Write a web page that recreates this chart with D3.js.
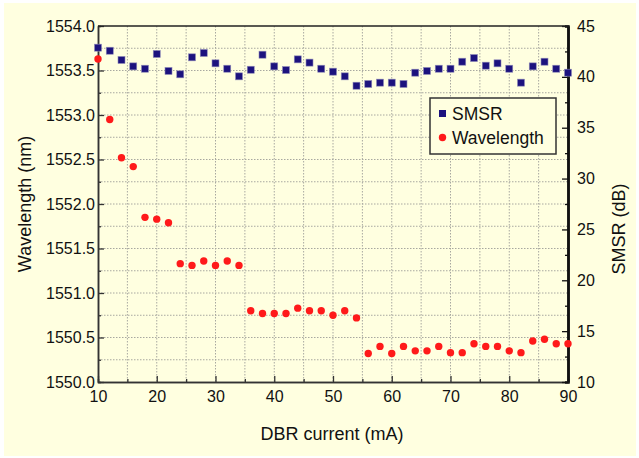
<!DOCTYPE html>
<html>
<head>
<meta charset="utf-8">
<script src="https://cdn.jsdelivr.net/npm/d3@7"></script>
<style>
  body { margin: 0; background: #ffffff; }
  text { font-family: "Liberation Sans", Arial, sans-serif; fill: #111; }
</style>
</head>
<body>
<div class="chart"></div>
<script>
// DBR current (mA)
var current = [10, 12, 14, 16, 18, 20, 22, 24, 26, 28, 30, 32, 34, 36, 38, 40, 42, 44, 46, 48,
  50, 52, 54, 56, 58, 60, 62, 64, 66, 68, 70, 72, 74, 76, 78, 80, 82, 84, 86, 88, 90];

// SMSR (dB), right axis
var smsr = [42.87, 42.57, 41.66, 41.03, 40.8, 42.25, 40.58, 40.25, 41.92, 42.35, 41.33, 40.8, 40.05, 40.7,
  42.18, 41.03, 40.67, 41.72, 41.4, 40.8, 40.51, 40.05, 39.13, 39.3, 39.43, 39.43, 39.3,
  40.41, 40.58, 40.8, 40.8, 41.49, 41.85, 41.1, 41.33, 40.8, 39.43, 41.03, 41.49, 40.8, 40.41];

// Wavelength (nm), left axis
var wavelength = [1553.63, 1552.95, 1552.52, 1552.42, 1551.85, 1551.83, 1551.79, 1551.33, 1551.31, 1551.36,
  1551.31, 1551.36, 1551.31, 1550.80, 1550.77, 1550.77, 1550.77, 1550.83, 1550.80, 1550.80, 1550.75,
  1550.80, 1550.72, 1550.32, 1550.40, 1550.32, 1550.40, 1550.35, 1550.35, 1550.40, 1550.33, 1550.33,
  1550.43, 1550.40, 1550.40, 1550.35, 1550.33, 1550.46, 1550.48, 1550.43, 1550.43];

var xTicks = [10, 20, 30, 40, 50, 60, 70, 80, 90];
var leftTicks = [1550.0, 1550.5, 1551.0, 1551.5, 1552.0, 1552.5, 1553.0, 1553.5, 1554.0];
var rightTicks = [10, 15, 20, 25, 30, 35, 40, 45];
var legendLabels = ["SMSR", "Wavelength"];

var svgWidth = 639;
var svgHeight = 458;

var margin = { top: 26, right: 71, bottom: 76, left: 98 };
var width = svgWidth - margin.left - margin.right;
var height = svgHeight - margin.top - margin.bottom;

var svg = d3.select(".chart")
  .append("svg")
  .attr("width", svgWidth)
  .attr("height", svgHeight);

// yellow panel
svg.append("rect")
  .attr("x", 4).attr("y", 3)
  .attr("width", 632).attr("height", 453)
  .attr("fill", "#ffffe0");

var chartGroup = svg.append("g")
  .attr("transform", `translate(${margin.left}, ${margin.top})`);

var xScale = d3.scaleLinear().domain([10, 90]).range([0, width]);
var yLeft = d3.scaleLinear().domain([1550, 1554]).range([height, 0]);
var yRight = d3.scaleLinear().domain([10, 45]).range([height, 0]);

// dotted grid
chartGroup.append("g")
  .selectAll("line")
  .data(d3.range(15, 90, 5))
  .enter()
  .append("line")
  .attr("x1", d => xScale(d)).attr("x2", d => xScale(d))
  .attr("y1", 0).attr("y2", height)
  .attr("stroke", "#a8a8a0")
  .attr("stroke-width", 1)
  .attr("stroke-dasharray", "1.5,1.5");

chartGroup.append("g")
  .selectAll("line")
  .data(d3.range(1550.25, 1554, 0.25))
  .enter()
  .append("line")
  .attr("x1", 0).attr("x2", width)
  .attr("y1", d => yLeft(d)).attr("y2", d => yLeft(d))
  .attr("stroke", "#a8a8a0")
  .attr("stroke-width", 1)
  .attr("stroke-dasharray", "1.5,1.5");

function styleAxis(g, color, w) {
  g.select(".domain").attr("stroke", color).attr("stroke-width", w);
  g.selectAll(".tick line").attr("stroke", color).attr("stroke-width", 1.3);
  g.selectAll(".tick text")
    .style("font-family", "'Liberation Sans', Arial, sans-serif")
    .style("font-size", "16px")
    .attr("fill", "#111");
}

// minor ticks
chartGroup.append("g")
  .attr("transform", `translate(0, ${height})`)
  .call(d3.axisBottom(xScale).tickValues(d3.range(15, 90, 10)).tickSize(-3).tickFormat(""))
  .call(g => styleAxis(g, "#333", 1.5));
chartGroup.append("g")
  .call(d3.axisLeft(yLeft).tickValues(d3.range(1550.25, 1554, 0.5)).tickSize(-3).tickFormat(""))
  .call(g => styleAxis(g, "#333", 1.5));
chartGroup.append("g")
  .attr("transform", `translate(${width}, 0)`)
  .call(d3.axisRight(yRight).tickValues(d3.range(12.5, 45, 5)).tickSize(-3).tickFormat(""))
  .call(g => styleAxis(g, "#111", 2.5));

// major axes
chartGroup.append("g")
  .attr("transform", `translate(0, ${height})`)
  .call(d3.axisBottom(xScale).tickValues(xTicks).tickSizeInner(-6).tickSizeOuter(0).tickPadding(9).tickFormat(d3.format("d")))
  .call(g => styleAxis(g, "#333", 1.5));

chartGroup.append("g")
  .call(d3.axisLeft(yLeft).tickValues(leftTicks).tickSizeInner(-6).tickSizeOuter(0).tickPadding(3).tickFormat(d3.format(".1f")))
  .call(g => styleAxis(g, "#333", 1.5));

chartGroup.append("g")
  .attr("transform", `translate(${width}, 0)`)
  .call(d3.axisRight(yRight).tickValues(rightTicks).tickSizeInner(-6).tickSizeOuter(0).tickPadding(9).tickFormat(d3.format("d")))
  .call(g => styleAxis(g, "#111", 2.5));

// top border
chartGroup.append("line")
  .attr("x1", 0).attr("x2", width + 1)
  .attr("y1", 0).attr("y2", 0)
  .attr("stroke", "#222")
  .attr("stroke-width", 1.5);

// SMSR squares
chartGroup.append("g")
  .selectAll("rect")
  .data(current)
  .enter()
  .append("rect")
  .attr("x", (d, i) => xScale(d) - 3.5)
  .attr("y", (d, i) => yRight(smsr[i]) - 3.5)
  .attr("width", 7).attr("height", 7)
  .attr("fill", "#1c127e")
  .attr("stroke", "#8f8ab8")
  .attr("stroke-width", 0.6);

// wavelength circles
chartGroup.append("g")
  .selectAll("circle")
  .data(current)
  .enter()
  .append("circle")
  .attr("cx", (d, i) => xScale(d))
  .attr("cy", (d, i) => yLeft(wavelength[i]))
  .attr("r", 3.7)
  .attr("fill", "#ff1a1a");

// legend
var legend = chartGroup.append("g")
  .attr("transform", `translate(${430 - margin.left}, ${98 - margin.top})`);
legend.append("rect")
  .attr("width", 126).attr("height", 56)
  .attr("fill", "#ffffe0")
  .attr("stroke", "#333")
  .attr("stroke-width", 1.5);
legend.append("rect")
  .attr("x", 9).attr("y", 12)
  .attr("width", 7).attr("height", 7)
  .attr("fill", "#1c127e");
legend.append("circle")
  .attr("cx", 12.5).attr("cy", 39.5)
  .attr("r", 3.7)
  .attr("fill", "#ff1a1a");
legend.selectAll("text")
  .data(legendLabels)
  .enter()
  .append("text")
  .attr("x", 22)
  .attr("y", (d, i) => 22 + i * 24)
  .style("font-size", "17.5px")
  .text(d => d);

// axis titles
chartGroup.append("text")
  .attr("transform", "rotate(-90)")
  .attr("x", 0 - height / 2)
  .attr("y", 0 - margin.left + 31)
  .style("text-anchor", "middle")
  .style("font-size", "18px")
  .text("Wavelength (nm)");

chartGroup.append("text")
  .attr("transform", "rotate(-90)")
  .attr("x", -203)
  .attr("y", width + 57)
  .style("text-anchor", "middle")
  .style("font-size", "18px")
  .text("SMSR (dB)");

chartGroup.append("text")
  .attr("x", 234)
  .attr("y", height + 58)
  .style("text-anchor", "middle")
  .style("font-size", "18px")
  .text("DBR current (mA)");
</script>
</body>
</html>
